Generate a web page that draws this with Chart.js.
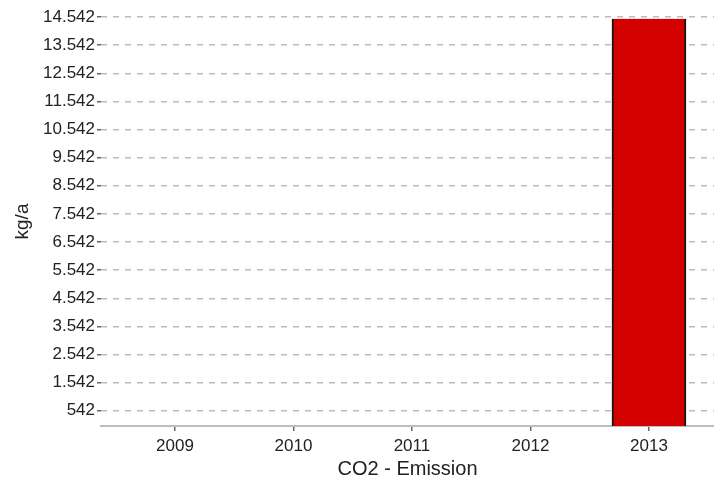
<!DOCTYPE html>
<html>
<head>
<meta charset="utf-8">
<script src="https://cdn.jsdelivr.net/npm/chart.js@4"></script>
<style>
    html, body { margin: 0; padding: 0; background: #fff; }
    #wrap { width: 714px; height: 482px; }
</style>
</head>
<body>
<div id="wrap"><canvas id="chart"></canvas></div>
<script>
// Daten
const years = [2009, 2010, 2011, 2012, 2013];
const emissions = [0, 0, 0, 0, 14480];
const yTickValues = [542, 1542, 2542, 3542, 4542, 5542, 6542, 7542, 8542, 9542, 10542, 11542, 12542, 13542, 14542];

// Tausenderpunkt wie im Original
function formatNumber(v) {
    return String(v).replace(/\B(?=(\d{3})+(?!\d))/g, '.');
}

const ctx = document.getElementById('chart').getContext('2d');

new Chart(ctx, {
    type: 'bar',
    data: {
        datasets: [{
            data: years.map((y, i) => ({ x: y, y: emissions[i] })),
            backgroundColor: '#d40000',
            borderColor: '#151515',
            borderWidth: { left: 2, right: 2, top: 0, bottom: 0 },
            borderSkipped: false,
            barThickness: 74
        }]
    },
    options: {
        responsive: true,
        maintainAspectRatio: false,
        animation: false,
        layout: { padding: { top: 17, right: 0, bottom: 0, left: 0 } },
        plugins: {
            legend: { display: false },
            tooltip: { enabled: false }
        },
        scales: {
            x: {
                type: 'linear',
                offset: false,
                min: 2008.376,
                max: 2013.549,
                afterBuildTicks: scale => {
                    scale.ticks = years.map(v => ({ value: v }));
                },
                afterFit: scale => { scale.height = 56; },
                ticks: {
                    color: '#222',
                    font: { family: 'Liberation Sans', size: 17 },
                    padding: 5,
                    callback: v => String(v)
                },
                grid: {
                    offset: false,
                    drawOnChartArea: false,
                    drawTicks: true,
                    tickLength: 5,
                    tickColor: '#666',
                    lineWidth: 1.5
                },
                border: { display: true, color: '#bdbdbd', width: 2 },
                title: {
                    display: true,
                    text: 'CO2 - Emission',
                    color: '#222',
                    font: { family: 'Liberation Sans', size: 20 },
                    padding: { top: 0, bottom: 1 }
                }
            },
            y: {
                min: 0,
                max: 14542,
                afterBuildTicks: scale => {
                    scale.ticks = yTickValues.map(v => ({ value: v }));
                },
                afterFit: scale => { scale.width = 101; },
                ticks: {
                    color: '#222',
                    font: { family: 'Liberation Sans', size: 17 },
                    padding: 2,
                    callback: v => formatNumber(v)
                },
                grid: {
                    color: '#bcbcbc',
                    lineWidth: 1.5,
                    tickLength: 4,
                    tickColor: '#666',
                    tickBorderDash: []
                },
                border: { display: false, dash: [6, 6] },
                title: {
                    display: true,
                    text: 'kg/a',
                    color: '#222',
                    font: { family: 'Liberation Sans', size: 19 },
                    padding: { top: 11, bottom: 0 }
                }
            }
        }
    }
});
</script>
</body>
</html>
